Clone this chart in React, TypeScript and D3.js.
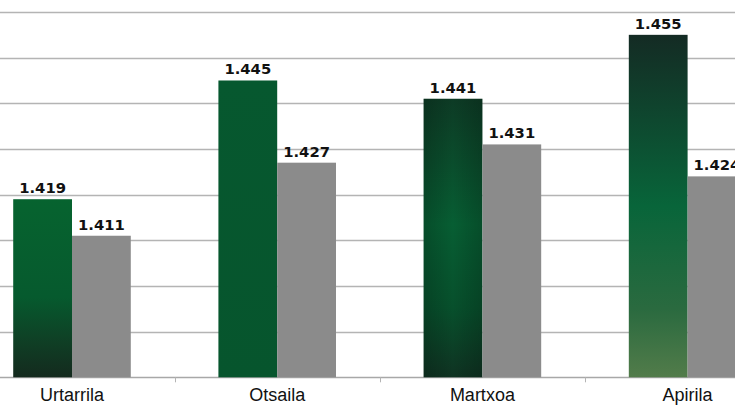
import React, { useEffect, useRef } from 'react';
import * as d3 from 'd3';

const months = ['Urtarrila', 'Otsaila', 'Martxoa', 'Apirila'];
const seriesKeys = ['current', 'previous'];
const currentValues = [1419, 1445, 1441, 1455];
const previousValues = [1411, 1427, 1431, 1424];
const yTicks = [1380, 1390, 1400, 1410, 1420, 1430, 1440, 1450, 1460];

// gradient stops for the green bars, one set per month
const greenStops: [number, string][][] = [
  [[0, '#06632f'], [0.55, '#065a2e'], [0.8, '#0f3f25'], [1, '#142a1e']],
  [[0, '#06582f'], [1, '#06552d']],
  [[0, '#0d3b25'], [0.45, '#075e33'], [0.75, '#07502c'], [1, '#0f3322']],
  [[0, '#142b24'], [0.5, '#08653a'], [0.8, '#2a6a3f'], [1, '#527c4a']],
];

const App: React.FC = () => {
  const svgRef = useRef<SVGSVGElement>(null);

  useEffect(() => {
    if (!svgRef.current) return;
    const width = 735;
    const height = 413;
    const svg = d3.select(svgRef.current);
    svg.selectAll('*').remove();

    const x0 = d3.scaleBand<string>()
      .domain(months)
      .range([-30.6, 790.2])
      .paddingInner(0.427)
      .paddingOuter(0.2135);
    const x1 = d3.scaleBand<string>()
      .domain(seriesKeys)
      .range([0, x0.bandwidth()]);
    const y = d3.scaleLinear().domain([1380, 1460]).range([377.3, 12]);

    const defs = svg.append('defs');
    greenStops.forEach((stops, i) => {
      const grad = defs.append('linearGradient')
        .attr('id', `g${i}`)
        .attr('x1', 0).attr('y1', 0).attr('x2', 0).attr('y2', 1);
      stops.forEach(([o, c]) => grad.append('stop').attr('offset', o).attr('stop-color', c));
    });
    // darker side edges for the Martxoa bar
    const side = defs.append('linearGradient')
      .attr('id', 'side').attr('x1', 0).attr('y1', 0).attr('x2', 1).attr('y2', 0);
    side.append('stop').attr('offset', 0).attr('stop-color', '#000').attr('stop-opacity', 0.18);
    side.append('stop').attr('offset', 0.5).attr('stop-color', '#000').attr('stop-opacity', 0);
    side.append('stop').attr('offset', 1).attr('stop-color', '#000').attr('stop-opacity', 0.18);

    svg.append('rect').attr('width', width).attr('height', height).attr('fill', '#fff');

    // gridlines
    svg.append('g')
      .selectAll('line')
      .data(yTicks)
      .join('line')
      .attr('x1', 0)
      .attr('x2', width)
      .attr('y1', d => Math.round(y(d)) + 0.5)
      .attr('y2', d => Math.round(y(d)) + 0.5)
      .attr('stroke', (d, i) => (i === 0 ? '#a8a8a8' : '#b4b4b4'))
      .attr('stroke-width', 1.3);

    // category boundary ticks
    const step = x0.step();
    svg.append('g')
      .selectAll('line')
      .data(months.slice(1))
      .join('line')
      .attr('x1', d => Math.round(x0(d)! + x0.bandwidth() / 2 - step / 2) + 0.5)
      .attr('x2', d => Math.round(x0(d)! + x0.bandwidth() / 2 - step / 2) + 0.5)
      .attr('y1', y(1380))
      .attr('y2', y(1380) + 5)
      .attr('stroke', '#b4b4b4');

    const groups = svg.append('g')
      .selectAll('g')
      .data(months)
      .join('g')
      .attr('transform', d => `translate(${x0(d)},0)`);

    groups.each(function (m, i) {
      const g = d3.select(this);
      const vals = [currentValues[i], previousValues[i]];
      seriesKeys.forEach((k, j) => {
        g.append('rect')
          .attr('x', x1(k)!)
          .attr('width', x1.bandwidth())
          .attr('y', y(vals[j]))
          .attr('height', y(1380) - y(vals[j]))
          .attr('fill', j === 0 ? `url(#g${i})` : '#8b8b8b');
        if (j === 0 && i === 2) {
          g.append('rect')
            .attr('x', x1(k)!)
            .attr('width', x1.bandwidth())
            .attr('y', y(vals[j]))
            .attr('height', y(1380) - y(vals[j]))
            .attr('fill', 'url(#side)');
        }
        g.append('text')
          .attr('x', x1(k)! + x1.bandwidth() / 2)
          .attr('y', y(vals[j]) - 6)
          .attr('text-anchor', 'middle')
          .attr('font-family', 'DejaVu Sans')
          .attr('font-weight', 'bold')
          .attr('font-size', 14.8)
          .attr('fill', '#111')
          .text(d3.format(',')(vals[j]).replace(',', '.'));
      });
      g.append('text')
        .attr('x', x0.bandwidth() / 2)
        .attr('y', 401)
        .attr('text-anchor', 'middle')
        .attr('font-family', 'Liberation Sans')
        .attr('font-size', 18)
        .attr('fill', '#111')
        .text(m);
    });
  }, []);

  return (
    <div style={{ position: 'absolute', left: 0, top: 0, width: 735, height: 413, overflow: 'hidden' }}>
      <svg ref={svgRef} width={735} height={413} viewBox="0 0 735 413" style={{ display: 'block' }} />
    </div>
  );
};

export default App;
